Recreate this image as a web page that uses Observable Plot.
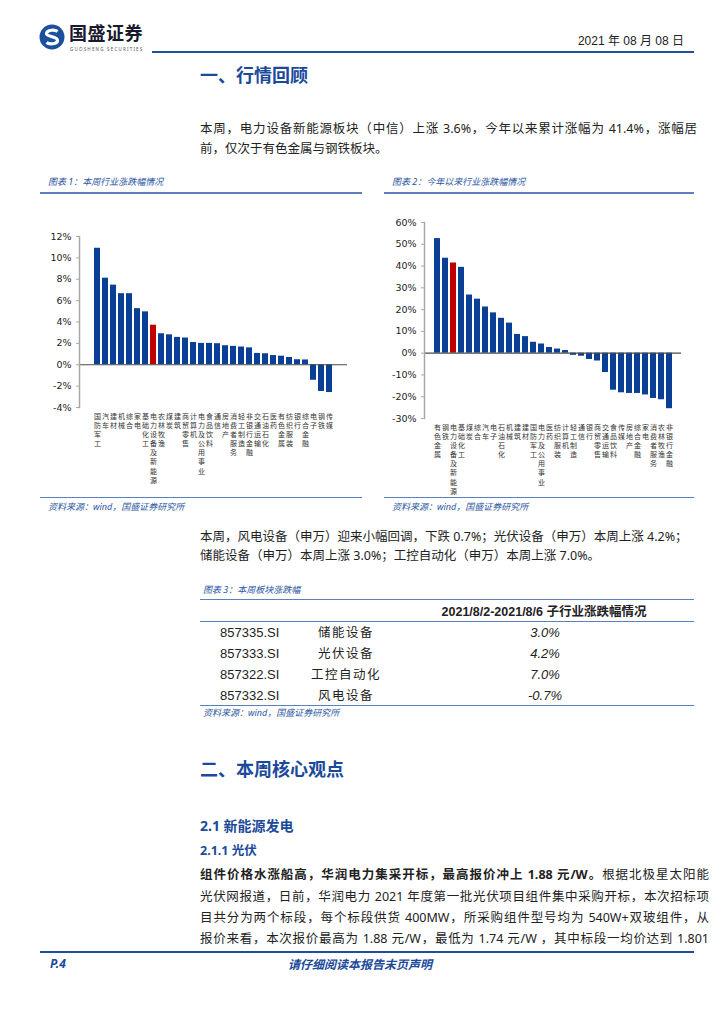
<!DOCTYPE html>
<html>
<head>
<meta charset="utf-8">
<script src="https://cdn.jsdelivr.net/npm/d3@7"></script>
<script src="https://cdn.jsdelivr.net/npm/@observablehq/plot@0.6"></script>
<style>
  html, body { margin: 0; padding: 0; background: #fff; }
  #page { position: relative; width: 724px; height: 1024px; overflow: hidden; font-family: "Noto Sans", "Noto Sans CJK SC", sans-serif; color: #222; }
  .a { position: absolute; white-space: nowrap; line-height: 1; }
  .hl { position: absolute; height: 0; }
  .jl { position: absolute; white-space: nowrap; line-height: 1; text-align: justify; text-align-last: justify; font-size: 12.5px; color: #222; }
  .cap { font-size: 9px; font-style: italic; color: #2a56a3; }
  .blue { color: #1b4a9b; }
  .chart { position: absolute; }
</style>
</head>
<body>
<div id="page">
  <!-- header -->
  <svg class="a" style="left:38px;top:23px" width="28" height="28" viewBox="0 0 28 28">
    <circle cx="14" cy="14" r="12.5" fill="#1d4f9f"/>
    <path d="M19.5 8.5 C17 6.5 9 6.5 8.5 10.5 C8 14 19.5 13 19.5 17.5 C19.5 21.5 11 21.5 8.5 19.5" fill="none" stroke="#fff" stroke-width="3.2"/>
  </svg>
  <div class="a" style="left:69px;top:23px;font-size:18px;font-weight:bold;color:#1a1a2e;font-family:'Noto Sans CJK SC';letter-spacing:0.5px">国盛证券</div>
  <div class="a" style="left:70px;top:47px;font-size:4.5px;color:#555;letter-spacing:1.2px">GUOSHENG SECURITIES</div>
  <div class="a" style="right:40px;top:35px;font-size:12px;color:#222;font-family:'Liberation Sans','Noto Sans CJK SC'">2021 年 08 月 08 日</div>
  <div class="hl" style="left:152px;width:542px;top:51px;border-top:2px solid #1f4e9c"></div>

  <div class="a blue" style="left:200px;top:65px;font-size:18px;font-weight:bold;font-family:'Noto Sans CJK SC'">一、行情回顾</div>

  <div class="jl" style="left:200px;top:123px;width:497px">本周，电力设备新能源板块（中信）上涨 3.6%，今年以来累计涨幅为 41.4%，涨幅居</div>
  <div class="a" style="left:200px;top:143px;font-size:12.5px">前，仅次于有色金属与钢铁板块。</div>

  <!-- chart titles -->
  <div class="a cap" style="left:48px;top:177px">图表 1：本周行业涨跌幅情况</div>
  <div class="a cap" style="left:392px;top:177px">图表 2：今年以来行业涨跌幅情况</div>
  <div class="hl" style="left:40px;width:322px;top:192px;border-top:2px solid #5b80c0"></div>
  <div class="hl" style="left:384px;width:310px;top:192px;border-top:2px solid #5b80c0"></div>

  <div id="chart1" class="chart" style="left:30px;top:226px"></div>
  <div id="chart2" class="chart" style="left:380px;top:212px"></div>

  <div class="hl" style="left:40px;width:322px;top:497px;border-top:1.5px solid #5b80c0"></div>
  <div class="hl" style="left:384px;width:310px;top:497px;border-top:1.5px solid #5b80c0"></div>
  <div class="a cap" style="left:48px;top:502px">资料来源：wind，国盛证券研究所</div>
  <div class="a cap" style="left:392px;top:502px">资料来源：wind，国盛证券研究所</div>

  <div class="a" style="left:200px;top:531px;font-size:12.5px">本周，风电设备（申万）迎来小幅回调，下跌 0.7%；光伏设备（申万）本周上涨 4.2%；</div>
  <div class="a" style="left:200px;top:550px;font-size:12.5px">储能设备（申万）本周上涨 3.0%；工控自动化（申万）本周上涨 7.0%。</div>

  <!-- table -->
  <div class="a cap" style="left:203px;top:585px">图表 3：本周板块涨跌幅</div>
  <div class="hl" style="left:200px;width:494px;top:599px;border-top:1.5px solid #5b80c0"></div>
  <div id="table"></div>
  <div class="hl" style="left:200px;width:494px;top:621px;border-top:1px solid #5b80c0"></div>
  <div class="hl" style="left:200px;width:494px;top:705px;border-top:1.5px solid #5b80c0"></div>
  <div class="a cap" style="left:203px;top:708px">资料来源：wind，国盛证券研究所</div>

  <div class="a blue" style="left:200px;top:759px;font-size:18px;font-weight:bold;font-family:'Noto Sans CJK SC'">二、本周核心观点</div>
  <div class="a blue" style="left:200px;top:819px;font-size:14px;font-weight:bold">2.1 新能源发电</div>
  <div class="a blue" style="left:200px;top:845px;font-size:12.5px;font-weight:bold">2.1.1 光伏</div>

  <div class="jl" style="left:200px;top:869px;width:509px"><b>组件价格水涨船高，华润电力集采开标，最高报价冲上 1.88 元/W。</b>根据北极星太阳能</div>
  <div class="jl" style="left:200px;top:891px;width:509px">光伏网报道，日前，华润电力 2021 年度第一批光伏项目组件集中采购开标，本次招标项</div>
  <div class="jl" style="left:200px;top:912px;width:509px">目共分为两个标段，每个标段供货 400MW，所采购组件型号均为 540W+双玻组件，从</div>
  <div class="jl" style="left:200px;top:933px;width:509px">报价来看，本次报价最高为 1.88 元/W，最低为 1.74 元/W ，其中标段一均价达到 1.801</div>

  <!-- footer -->
  <div class="hl" style="left:40px;width:654px;top:951px;border-top:2px solid #1f4e9c"></div>
  <div class="a blue" style="left:50px;top:958px;font-size:12px;font-weight:bold;font-style:italic">P.4</div>
  <div class="a blue" style="left:288px;top:958px;font-size:12px;font-weight:bold;font-style:italic;font-family:'Noto Sans CJK SC'">请仔细阅读本报告末页声明</div>
</div>

<script>
// ---- Chart 1: weekly change by industry (%)
const weekNames = ["国防军工","汽车","建材","机械","综合","家电","基础化工","电力设备及新能源","农林牧渔","煤炭","建筑","商贸零售","计算机","电力及公用事业","食品饮料","通信","房地产","消费者服务","轻工制造","非银行金融","交通运输","石油石化","医药","有色金属","纺织服装","银行","综合金融","电子","钢铁","传媒"];
const weekValues = [10.9,8.1,7.45,6.65,6.65,5.25,4.95,3.7,2.9,2.8,2.56,2.5,2.08,2.0,2.0,1.97,1.78,1.72,1.66,1.58,1.06,1.03,0.86,0.8,0.68,0.47,0.45,-1.45,-2.5,-2.6];
const weekTicks = [-4,-2,0,2,4,6,8,10,12];

// ---- Chart 2: year-to-date change by industry (%)
const ytdNames = ["有色金属","钢铁","电力设备及新能源","基础化工","煤炭","综合","汽车","电子","石油石化","机械","建筑","建材","国防军工","电力及公用事业","医药","纺织服装","计算机","轻工制造","通信","银行","商贸零售","交通运输","食品饮料","传媒","房地产","综合金融","家电","消费者服务","农林牧渔","非银行金融"];
const ytdValues = [52.6,43.6,41.4,39.4,26.7,24.8,21.2,18.5,16.0,13.8,8.6,7.6,5.0,4.2,2.6,1.9,1.2,-1.0,-1.4,-2.9,-3.6,-8.9,-17.0,-18.2,-18.5,-18.5,-19.2,-20.8,-21.4,-25.5];
const ytdTicks = [-30,-20,-10,0,10,20,30,40,50,60];

const highlight = "电力设备及新能源";
const BLUE = "#0a3f96", RED = "#c00000";

// ---- Table 3
const tableCodes = ["857335.SI","857333.SI","857322.SI","857332.SI"];
const tableNames = ["储能设备","光伏设备","工控自动化","风电设备"];
const tableValues = ["3.0%","4.2%","7.0%","-0.7%"];
const tableHeader = "2021/8/2-2021/8/6 子行业涨跌幅情况";

function barChart(names, values, ticks, opts) {
  const data = names.map((n, i) => ({name: n, value: values[i]}));
  return Plot.plot({
    width: opts.width, height: opts.height,
    marginLeft: opts.ml, marginRight: opts.mr, marginTop: opts.mt, marginBottom: opts.mb,
    style: {fontFamily: "'DejaVu Sans', 'Noto Sans CJK SC', sans-serif", fontSize: "9.5px", color: "#333", background: "transparent"},
    x: {domain: names, padding: 0.27, axis: null, label: null},
    y: {domain: [ticks[0], ticks[ticks.length - 1]], axis: null, label: null},
    marks: [
      Plot.barY(data, {x: "name", y: "value", fill: d => d.name === highlight ? RED : BLUE}),
      Plot.ruleY([0], {stroke: "#4a4a4a", strokeWidth: 1.2}),
      Plot.frame({anchor: "left", stroke: "#a8a8a8", strokeWidth: 1.5}),
      Plot.axisY({ticks: ticks, label: null, tickSize: 3, tickPadding: 5, tickFormat: d => d + "%", stroke: "#a8a8a8", fill: "#222"}),
      Plot.axisX({label: null, tickSize: 0, tickPadding: 5, tickFormat: d => d.split("").join("\n"), lineHeight: 1.3, fontSize: 7, fill: "#333", fontFamily: "'Noto Sans CJK SC'"})
    ]
  });
}

document.getElementById("chart1").append(barChart(weekNames, weekValues, weekTicks,
  {width: 330, height: 260, ml: 49, mr: 13, mt: 10, mb: 79}));
document.getElementById("chart2").append(barChart(ytdNames, ytdValues, ytdTicks,
  {width: 320, height: 285, ml: 44, mr: 19, mt: 10, mb: 79}));

// table rows
const tbl = document.getElementById("table");
const mk = (txt, css) => { const d = document.createElement("div"); d.className = "a"; d.textContent = txt; d.style.cssText = css; tbl.appendChild(d); };
mk(tableHeader, "left:544px;top:606px;transform:translateX(-50%);font-size:12.5px;font-weight:bold;font-family:'Liberation Sans','Noto Sans CJK SC'");
const rowY = [626, 647, 668, 689];
tableCodes.forEach((c, i) => {
  mk(c, `left:220px;top:${rowY[i]}px;font-size:13px;font-family:'Liberation Sans'`);
  mk(tableNames[i], `left:346px;top:${rowY[i]}px;font-size:12.5px;transform:translateX(-50%);letter-spacing:1.5px;font-family:'Noto Sans CJK SC'`);
  mk(tableValues[i], `left:545px;top:${rowY[i]}px;font-size:13px;font-style:italic;transform:translateX(-50%);font-family:'Liberation Sans'`);
});
</script>
</body>
</html>
